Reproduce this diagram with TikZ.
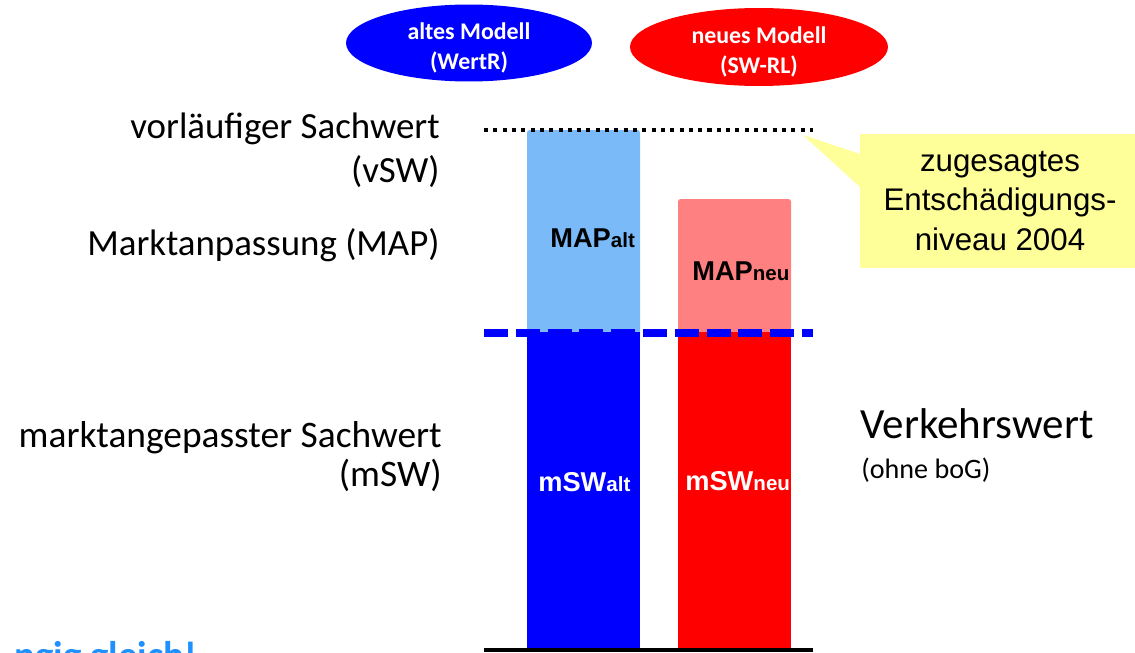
\documentclass[tikz,border=0pt]{standalone}
\usepackage{fontspec}
\setmainfont{Carlito}
\newfontfamily\arialfont{Liberation Sans}
\usetikzlibrary{shapes.geometric}
\definecolor{lightblue}{RGB}{122,186,248}
\definecolor{lightred}{RGB}{255,128,128}
\definecolor{noteyellow}{RGB}{255,255,153}
\definecolor{hintblue}{RGB}{30,144,255}
\newcommand\barsub[1]{{\fontsize{11.7}{14}\selectfont #1}}
\begin{document}
\begin{tikzpicture}[x=0.02cm,y=-0.02cm,
  model/.style={ellipse,inner sep=0,minimum width=4.92cm,minimum height=1.54cm},
  modeltext/.style={text=white,align=center,yshift=-0.1cm,font=\fontsize{13.6}{17}\selectfont\bfseries},
  leftlabel/.style={anchor=base east,inner sep=0,align=right,font=\fontsize{21}{25}\selectfont},
  rightlabel/.style={anchor=base west,inner sep=0},
  barlabel/.style={anchor=base west,inner sep=0,font=\arialfont\bfseries\fontsize{15.5}{18}\selectfont}]
  \useasboundingbox (0,0) rectangle (1135,652);
  % models
  \node[model,fill=blue,label={[modeltext]center:altes Modell\\(WertR)}] (old) at (469,43) {};
  \node[model,fill=red,minimum width=5.16cm,minimum height=1.56cm,
    label={[modeltext]center:neues Modell\\(SW-RL)}] (new) at (759,47) {};
  % bars
  \foreach \x/\ytop/\lcol/\dcol in {527/130/lightblue/blue,678/199/lightred/red}{
    \fill[\lcol,rounded corners=1.5pt] (\x,\ytop) rectangle (\x+113,340);
    \fill[\dcol] (\x,332) rectangle (\x+113,650);
  }
  \node[barlabel] (mapalt) at (550,247) {MAP\barsub{alt}};
  \node[barlabel] (mapneu) at (692,280) {MAP\barsub{neu}};
  \node[barlabel,text=white] (mswalt) at (538,491) {mSW\barsub{alt}};
  \node[barlabel,text=white] (mswneu) at (685,490) {mSW\barsub{neu}};
  % levels
  \coordinate (vswl) at (484,130);
  \coordinate (vswr) at (813,130);
  \coordinate (mapl) at (484,333);
  \coordinate (mapr) at (813,333);
  \coordinate (basel) at (484,650);
  \coordinate (baser) at (813,650);
  \draw[line width=2.3pt,dash pattern=on 2.3pt off 3pt] (vswl) -- (vswr);
  \draw[blue,line width=4.5pt,dash pattern=on 13.6pt off 4.5pt] (mapl) -- (mapr);
  \draw[line width=2.3pt] (basel) -- (baser);
  % left labels
  \node[leftlabel] (vsw) at (440,182) {vorläufiger Sachwert\\(vSW)};
  \node[leftlabel] (map) at (440,255) {Marktanpassung (MAP)};
  \node[leftlabel,font=\fontsize{21.3}{22}\selectfont] (msw) at (442,486) {marktangepasster Sachwert\\(mSW)};
  % right labels
  \node[rightlabel,font=\fontsize{24.5}{28}\selectfont] (vw) at (860,438) {Verkehrswert};
  \node[rightlabel,font=\fontsize{16}{19}\selectfont] (bog) at (861,478) {(ohne boG)};
  % callout
  \node[fill=noteyellow,inner sep=0,minimum width=5.6cm,minimum height=2.68cm,align=center,
    font=\arialfont\fontsize{17.8}{22.3}\selectfont] (promise) at (1000,201)
    {zugesagtes\\Entschädigungs-\\niveau 2004};
  \coordinate (tip) at (803,135);
  \fill[noteyellow] ([xshift=2pt,yshift=0.92cm]promise.west) -- (tip)
    -- ([xshift=2pt,yshift=0.22cm]promise.west) -- cycle;
  % note
  \node[anchor=base east,inner sep=0,text=hintblue,font=\fontsize{22}{26}\selectfont\bfseries] (hint) at (197,668) {ngig gleich!};
\end{tikzpicture}
\end{document}
